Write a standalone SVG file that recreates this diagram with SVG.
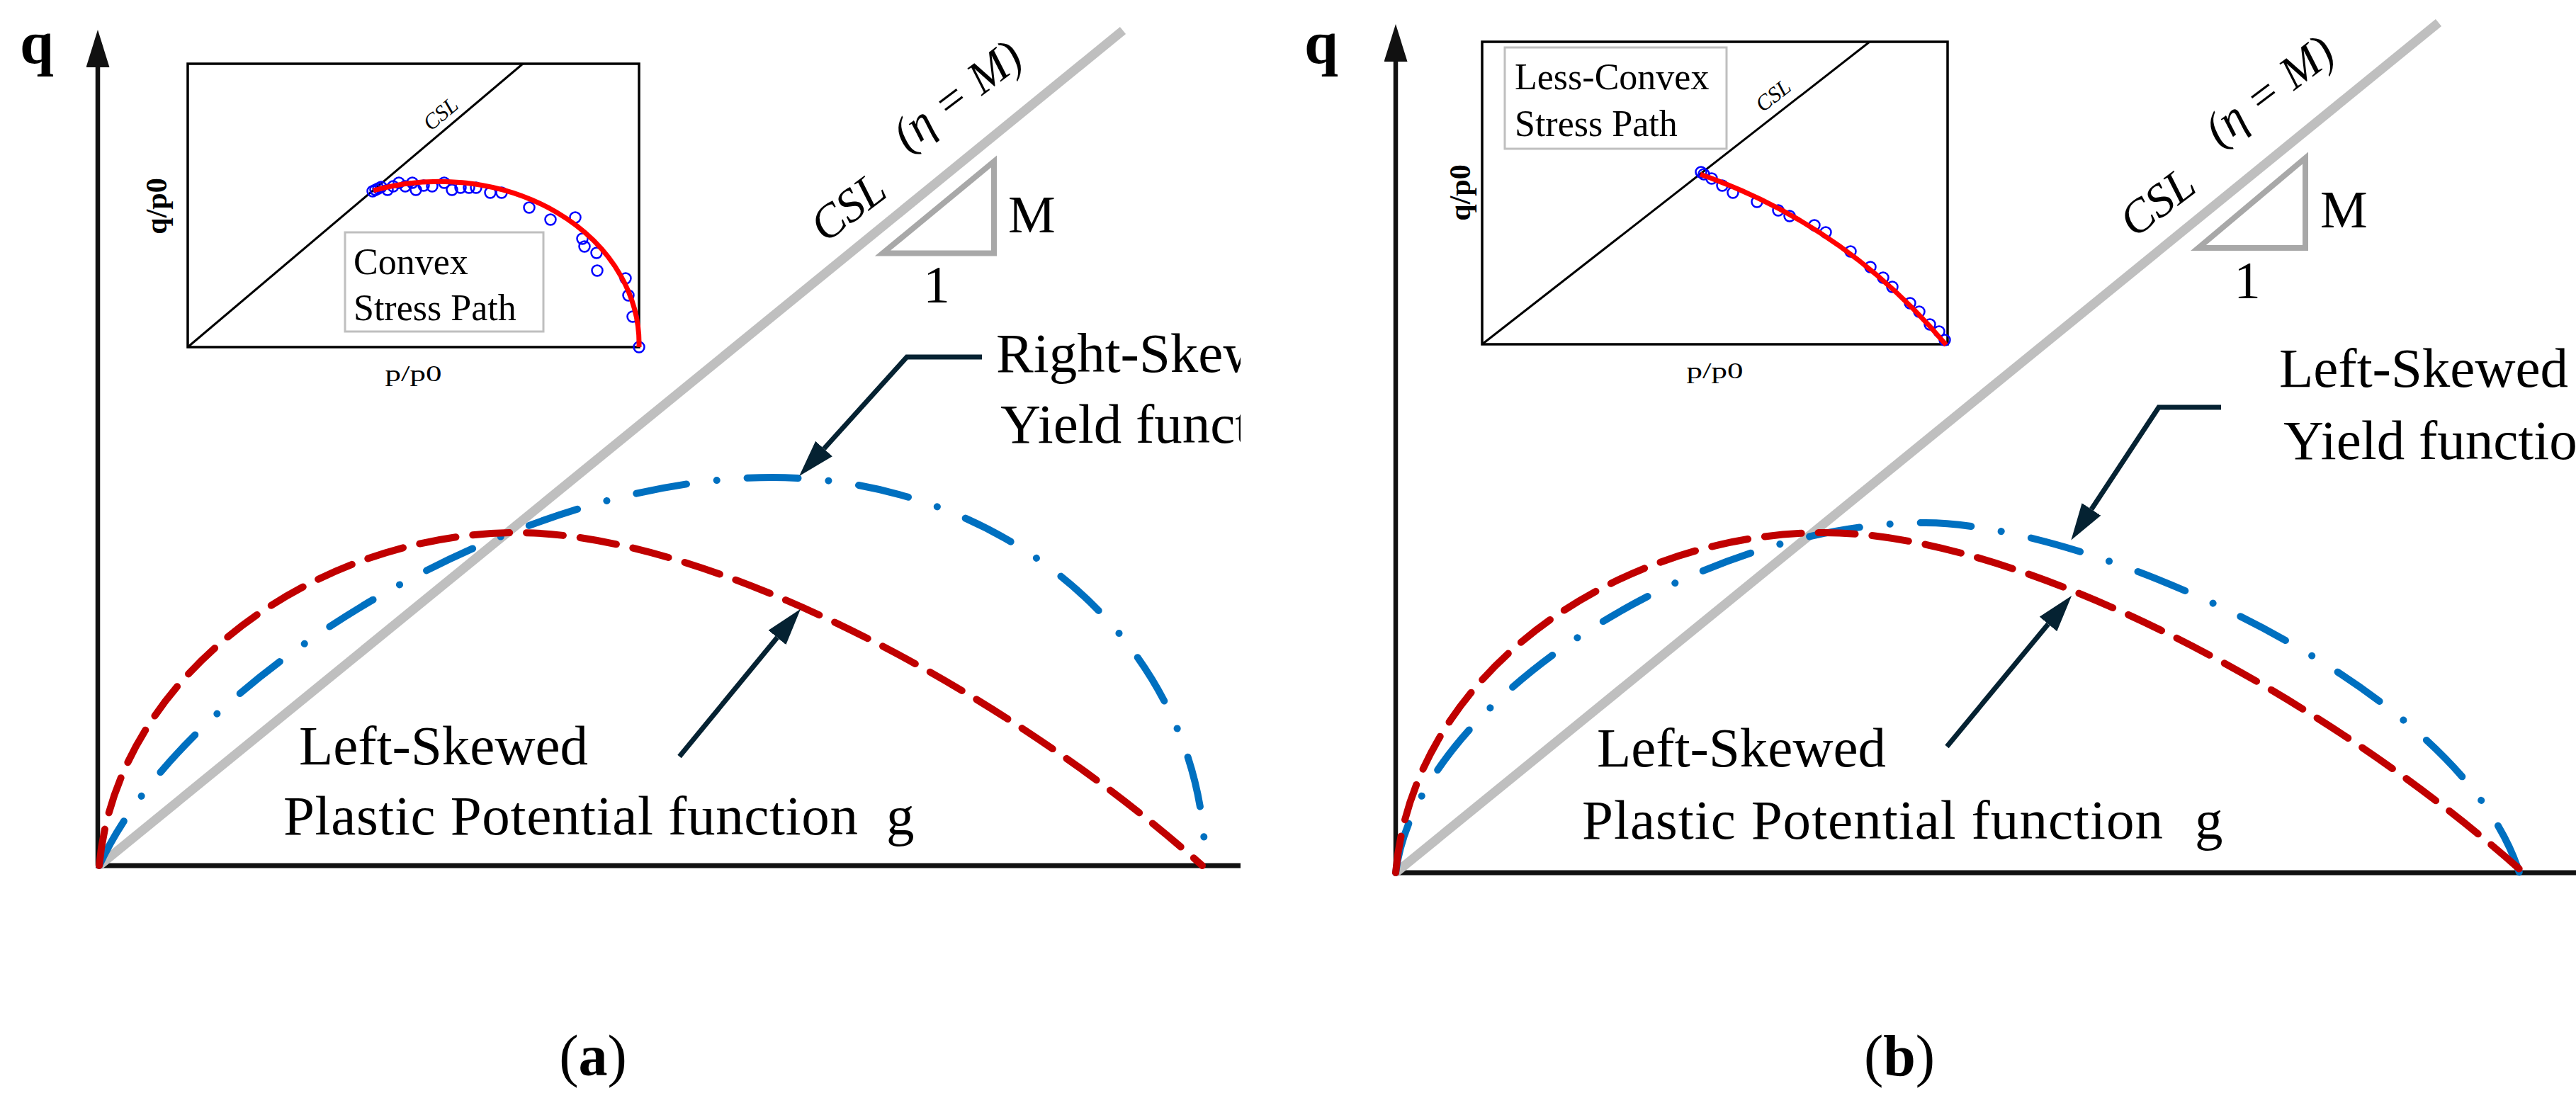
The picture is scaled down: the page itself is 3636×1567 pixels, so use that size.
<svg xmlns="http://www.w3.org/2000/svg" width="3636" height="1567" viewBox="0 0 3636 1567">
<defs>
<style>
text{font-family:"Liberation Serif","Times New Roman",serif;fill:#000}
.axis{stroke:#111;stroke-width:6.5;fill:none}
.xaxis{stroke:#111;stroke-width:7;fill:none}
.csl{stroke:#bfbfbf;stroke-width:13;fill:none}
.tri{stroke:#a8a8a8;stroke-width:8;fill:none;stroke-linejoin:miter}
.red{stroke:#c00000;stroke-width:10;fill:none;stroke-linecap:round;stroke-dasharray:52 24}
.blue{stroke:#0070c0;stroke-width:10;fill:none;stroke-linecap:round;stroke-dasharray:72 43 0.1 43}
.leader{stroke:#052232;stroke-width:7;fill:none}
.box{stroke:#000;stroke-width:3.5;fill:#fff}
.ccsl{stroke:#000;stroke-width:3;fill:none}
.legend{stroke:#bfbfbf;stroke-width:3;fill:#fff}
.fit{stroke:#ff0000;stroke-width:7;fill:none}
.pts circle{stroke:#0000ff;stroke-width:2.5;fill:none}
.big{font-size:79px}
.num{font-size:75px}
.ital{font-size:66px;font-style:italic}
.small{font-size:31px;font-style:italic}
.leg{font-size:52px}
.ax{font-size:86px;font-weight:bold}
.qp{font-size:42px;font-weight:bold}
.pp{font-size:32px}
.cap{font-size:82px}
</style>
<marker id="arr" markerUnits="userSpaceOnUse" markerWidth="52" markerHeight="32" viewBox="0 0 52 32" refX="0" refY="16" orient="auto">
<path d="M0,0 L52,16 L0,32 Z" fill="#052232"/>
</marker>
<marker id="axarr" markerUnits="userSpaceOnUse" markerWidth="53" markerHeight="33" viewBox="0 0 53 33" refX="0" refY="16.5" orient="auto">
<path d="M0,0 L53,16.5 L0,33 Z" fill="#111"/>
</marker>
<clipPath id="clipA"><rect x="0" y="0" width="1751" height="1567"/></clipPath>
</defs>
<rect width="3636" height="1567" fill="#fff"/>

<!-- ================= PANEL A ================= -->
<g id="panel-a">
<g id="a-axes">
<path class="axis" d="M138,1222 L138,95" marker-end="url(#axarr)"/>
<path class="xaxis" d="M135,1222 L1751,1222"/>
<text class="ax" x="28" y="89">q</text>
</g>
<g id="a-csl">
<path class="csl" d="M140,1222 L1585,43"/>
<polygon class="tri" points="1246,357.5 1403,357.5 1403,228"/>
<text class="num" x="1423" y="328">M</text>
<text class="num" x="1322" y="427" text-anchor="middle">1</text>
<text class="ital" transform="translate(1197,292) rotate(-37)" y="22" text-anchor="middle">CSL</text>
<text class="ital" transform="translate(1352,136) rotate(-37)" y="20" text-anchor="middle">(η = M)</text>
</g>
<g id="a-curves">
<path id="a-yield" class="blue" d="M140,1222 C260,960 720,674 1090,674 A611,548 0 0 1 1701,1222"/>
<path id="a-potential" class="red" d="M140,1222 C165,950 450,752 730,752 C1000,752 1420,975 1697,1222"/>
</g>
<g id="a-inset">
<rect class="box" x="265" y="90" width="637" height="400"/>
<path class="ccsl" d="M265,490 L738,90"/>
<text class="small" transform="translate(622,161) rotate(-40)" y="10" text-anchor="middle">CSL</text>
<rect class="legend" x="487" y="328" width="280" height="140"/>
<text class="leg" x="499" y="387">Convex</text>
<text class="leg" x="499" y="452">Stress Path</text>
<g class="pts">
<circle cx="526" cy="270" r="7.5"/><circle cx="530" cy="268" r="7.5"/><circle cx="534" cy="266" r="7.5"/><circle cx="538" cy="264" r="7.5"/>
<circle cx="547" cy="268" r="7.5"/><circle cx="555" cy="263" r="7.5"/><circle cx="563" cy="258" r="7.5"/><circle cx="572" cy="263" r="7.5"/>
<circle cx="582" cy="258" r="7.5"/><circle cx="587" cy="268" r="7.5"/><circle cx="598" cy="262" r="7.5"/><circle cx="610" cy="263" r="7.5"/>
<circle cx="627" cy="258" r="7.5"/><circle cx="638" cy="268" r="7.5"/><circle cx="650" cy="265" r="7.5"/><circle cx="662" cy="265" r="7.5"/>
<circle cx="672" cy="265" r="7.5"/><circle cx="692" cy="272" r="7.5"/><circle cx="708" cy="272" r="7.5"/><circle cx="747" cy="293" r="7.5"/>
<circle cx="777" cy="310" r="7.5"/><circle cx="812" cy="307" r="7.5"/><circle cx="822" cy="337" r="7.5"/><circle cx="825" cy="348" r="7.5"/>
<circle cx="842" cy="357" r="7.5"/><circle cx="843" cy="382" r="7.5"/><circle cx="883" cy="393" r="7.5"/><circle cx="887" cy="417" r="7.5"/>
<circle cx="893" cy="447" r="7.5"/><circle cx="902" cy="490" r="7.5"/>
</g>
<path class="fit" d="M527,269 A282,229 0 0 1 902,490"/>
<text class="qp" transform="translate(225,291) rotate(-90)" y="10" text-anchor="middle">q/p0</text>
<text class="pp" x="583.5" y="538" text-anchor="middle" textLength="80" lengthAdjust="spacingAndGlyphs">p/p0</text>
</g>
<g id="a-label-yield" clip-path="url(#clipA)">
<text class="big" x="1406" y="525">Right-Skewed</text>
<text class="big" x="1412" y="625">Yield function</text>
</g>
<g id="a-label-potential">
<text class="big" x="422" y="1079">Left-Skewed</text>
<text class="big" x="400" y="1178" textLength="811" lengthAdjust="spacing">Plastic Potential function</text>
<text class="big" x="1251" y="1178">g</text>
</g>
<text id="a-caption" class="cap" x="837" y="1518" text-anchor="middle">(<tspan font-weight="bold">a</tspan>)</text>
</g>

<!-- ================= PANEL B ================= -->
<g id="panel-b">
<g id="b-axes">
<path class="axis" d="M1970,1232 L1970,87" marker-end="url(#axarr)"/>
<path class="xaxis" d="M1967,1232 L3636,1232"/>
<text class="ax" x="1841" y="89">q</text>
</g>
<g id="b-csl">
<path class="csl" d="M1970,1232 L3442,32"/>
<polygon class="tri" points="3103,350 3254,350 3254,223"/>
<text class="num" x="3275" y="321">M</text>
<text class="num" x="3172" y="421" text-anchor="middle">1</text>
<text class="ital" transform="translate(3045,285) rotate(-37)" y="22" text-anchor="middle">CSL</text>
<text class="ital" transform="translate(3204,129) rotate(-37)" y="20" text-anchor="middle">(η = M)</text>
</g>
<g id="b-curves">
<path id="b-yield" class="blue" d="M1970,1232 C2000,990 2400,738 2715,738 C2935,736 3470,960 3556,1232"/>
<path id="b-potential" class="red" d="M1970,1232 C1995,945 2290,752 2575,752 C2851,752 3279,980 3562,1232"/>
</g>
<g id="b-inset">
<rect class="box" x="2092" y="59" width="657" height="427"/>
<path class="ccsl" d="M2092,486 L2639,59"/>
<text class="small" transform="translate(2503,135) rotate(-38)" y="10" text-anchor="middle">CSL</text>
<rect class="legend" x="2124" y="67" width="313" height="143"/>
<text class="leg" x="2138" y="126">Less-Convex</text>
<text class="leg" x="2138" y="192">Stress Path</text>
<g class="pts">
<circle cx="2401" cy="243" r="7.5"/><circle cx="2405" cy="246" r="7.5"/><circle cx="2416" cy="252" r="7.5"/><circle cx="2431" cy="262" r="7.5"/>
<circle cx="2446" cy="272" r="7.5"/><circle cx="2480" cy="285" r="7.5"/><circle cx="2510" cy="297" r="7.5"/><circle cx="2526" cy="305" r="7.5"/>
<circle cx="2561" cy="318" r="7.5"/><circle cx="2577" cy="328" r="7.5"/><circle cx="2612" cy="355" r="7.5"/><circle cx="2640" cy="377" r="7.5"/>
<circle cx="2658" cy="392" r="7.5"/><circle cx="2671" cy="405" r="7.5"/><circle cx="2696" cy="428" r="7.5"/><circle cx="2709" cy="440" r="7.5"/>
<circle cx="2724" cy="458" r="7.5"/><circle cx="2737" cy="468" r="7.5"/><circle cx="2745" cy="480" r="7.5"/>
</g>
<path class="fit" d="M2400,246 Q2605,318 2747,487"/>
<text class="qp" transform="translate(2065,272) rotate(-90)" y="10" text-anchor="middle">q/p0</text>
<text class="pp" x="2420.5" y="534" text-anchor="middle" textLength="80" lengthAdjust="spacingAndGlyphs">p/p0</text>
</g>
<g id="b-label-yield">
<text class="big" x="3217" y="546">Left-Skewed</text>
<text class="big" x="3223" y="648">Yield function</text>
</g>
<g id="b-label-potential">
<text class="big" x="2254" y="1082">Left-Skewed</text>
<text class="big" x="2233" y="1184" textLength="820" lengthAdjust="spacing">Plastic Potential function</text>
<text class="big" x="3098" y="1184">g</text>
</g>
<text id="b-caption" class="cap" x="2681" y="1518" text-anchor="middle">(<tspan font-weight="bold">b</tspan>)</text>
</g>

<!-- ================= CONNECTORS ================= -->
<g id="connectors">
<path id="a-arrow-yield" class="leader" d="M1386,504 L1280,504 L1163,633.5" marker-end="url(#arr)"/>
<path id="a-arrow-potential" class="leader" d="M959,1068 L1097,900" marker-end="url(#arr)"/>
<path id="b-arrow-yield" class="leader" d="M3135,575 L3047,575 L2952,719" marker-end="url(#arr)"/>
<path id="b-arrow-potential" class="leader" d="M2748,1054 L2891,881" marker-end="url(#arr)"/>
</g>
</svg>
